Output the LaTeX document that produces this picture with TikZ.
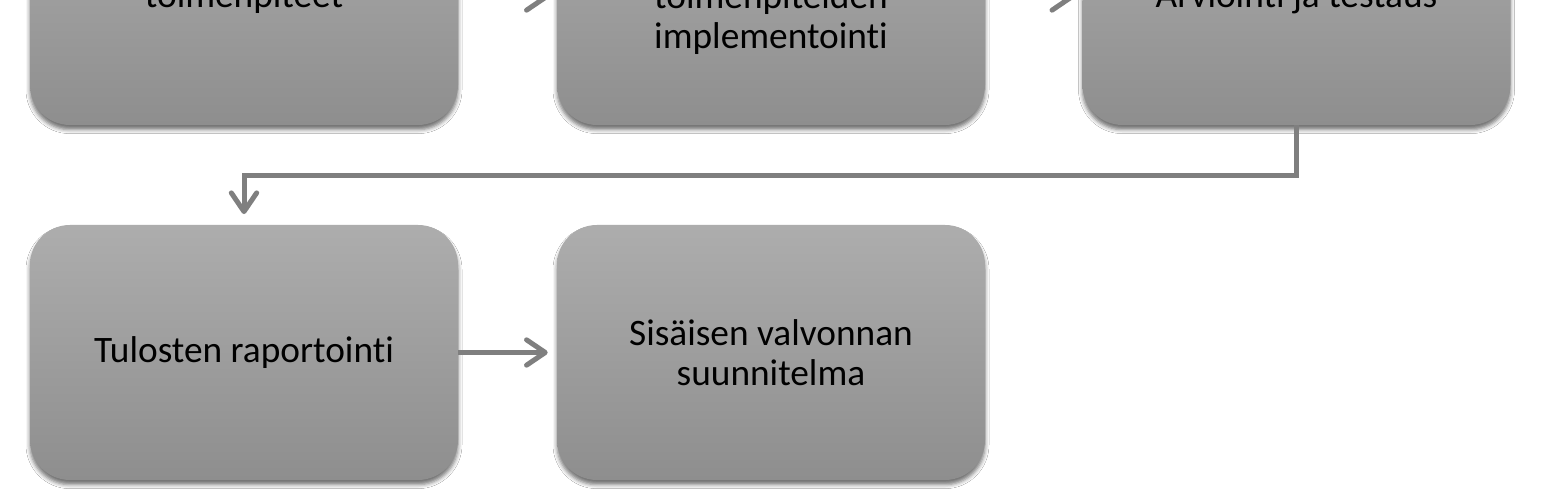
\documentclass[tikz,border=0pt]{standalone}
\usepackage{fontspec}
\setmainfont{Carlito}[Ligatures=NoCommon]
\usetikzlibrary{arrows.meta,shadows.blur}
\definecolor{boxtop}{HTML}{ADADAD}
\definecolor{boxbot}{HTML}{8E8E8E}
\definecolor{arrowgray}{HTML}{7F7F7F}
\begin{document}
\begin{tikzpicture}[x=0.75pt,y=-0.75pt,
  procbox/.style={rounded corners=30pt, minimum width=321pt, minimum height=191.25pt,
    top color=boxtop, bottom color=boxbot, draw=none, align=center,
    font=\fontsize{28}{30}\selectfont, text=black, inner sep=0pt,
    blur shadow={shadow xshift=0pt, shadow yshift=-3.5pt, shadow blur radius=3pt, shadow opacity=55}},
  flow/.style={draw=arrowgray, line width=3.75pt,
    -{Straight Barb[length=14pt,width=19pt,round]}}]
\useasboundingbox (0,0) rectangle (1542,498);
\clip (0,0) rectangle (1542,498);
\fill[white] (0,0) rectangle (1542,498);
\node[procbox] (b1) at (244,-2.5) {toimenpiteet};
\node[procbox] (b2) at (771,-2.5) {\strut\\toimenpiteiden\\implementointi};
\node[procbox] (b3) at (1296.5,-2.5) {Arviointi ja testaus};
\node[procbox] (b4) at (244,352.5) {Tulosten raportointi};
\node[procbox] (b5) at (771,352.5) {Sisäisen valvonnan\\suunnitelma};
\draw[flow, shorten >=6.75pt] (b1.east) -- (b2.west);
\draw[flow, shorten >=6.75pt] (b2.east) -- (b3.west);
\draw[flow, shorten >=8pt] (b3.south) -- ++(0,50) -| (b4.north);
\draw[flow, shorten >=6.75pt] (b4.east) -- (b5.west);
\end{tikzpicture}
\end{document}
